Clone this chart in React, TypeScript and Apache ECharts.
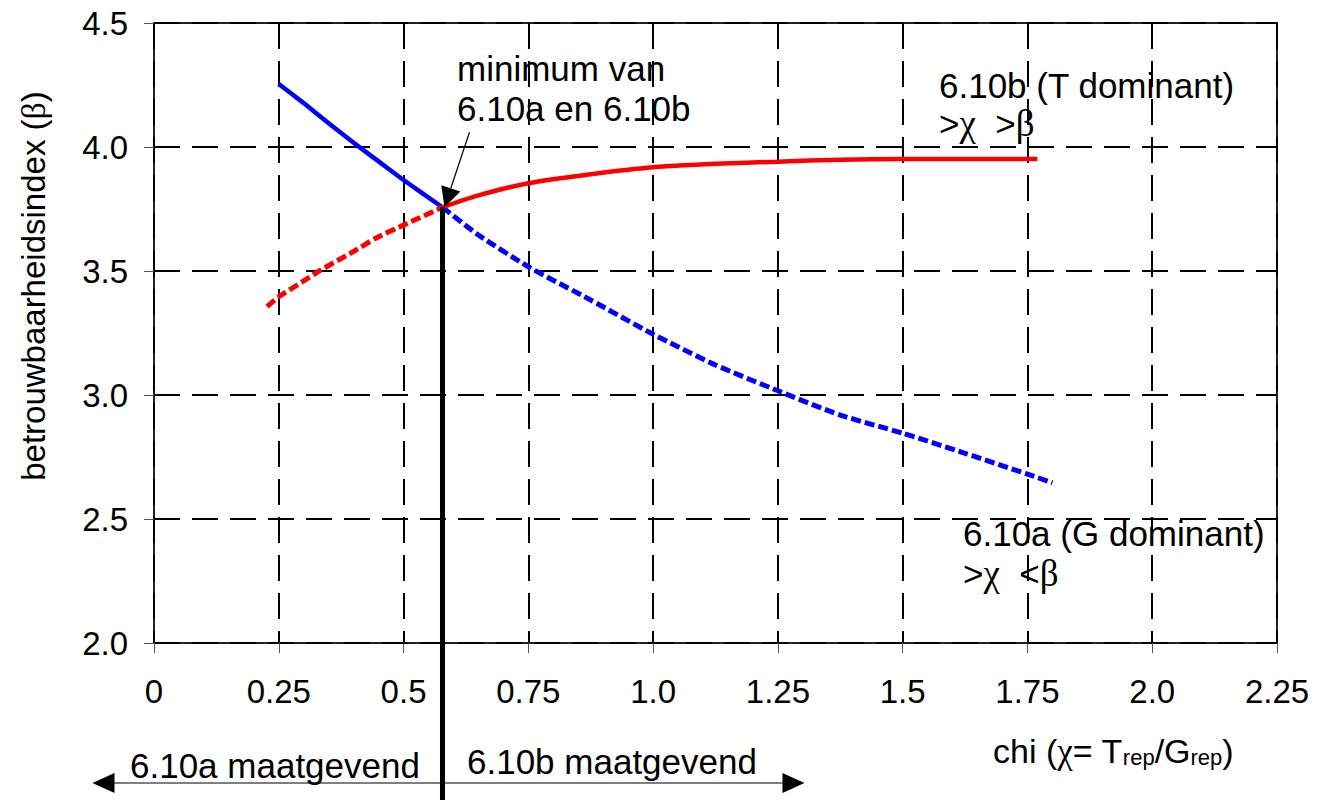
import React, { useEffect, useRef } from "react";
import * as echarts from "echarts";

// ---- data (chi = T_rep / G_rep, beta = reliability index) ----
const xTicks = [0, 0.25, 0.5, 0.75, 1.0, 1.25, 1.5, 1.75, 2.0, 2.25];
const yTicks = [2.0, 2.5, 3.0, 3.5, 4.0, 4.5];

const CHI_MIN = 0.578;
const BETA_MIN = 3.757;

// 6.10a (G dominant)
const blueSolidChi = [0.25, 0.3, 0.35, 0.4, 0.45, 0.5, 0.578];
const blueSolidBeta = [4.254, 4.177, 4.096, 4.017, 3.942, 3.867, 3.757];
const blueDashedChi = [0.578, 0.65, 0.75, 0.875, 1.0, 1.125, 1.25, 1.375, 1.5, 1.625, 1.75, 1.8];
const blueDashedBeta = [3.757, 3.645, 3.517, 3.383, 3.245, 3.121, 3.017, 2.919, 2.846, 2.765, 2.681, 2.646];

// 6.10b (T dominant)
const redDashedChi = [0.2265, 0.25, 0.3, 0.331, 0.4, 0.444, 0.5, 0.578];
const redDashedBeta = [3.356, 3.396, 3.46, 3.5, 3.579, 3.632, 3.685, 3.757];
const redSolidChi = [0.578, 0.65, 0.75, 0.875, 1.0, 1.125, 1.25, 1.375, 1.5, 1.77];
const redSolidBeta = [3.757, 3.805, 3.854, 3.89, 3.918, 3.932, 3.941, 3.949, 3.952, 3.952];

const zip = (xs: number[], ys: number[]) => xs.map((x, i) => [x, ys[i]]);

const SANS = "'Liberation Sans', Arial, sans-serif";
const SERIF = "'Liberation Serif', 'DejaVu Serif', serif";

export default function App() {
  const ref = useRef<HTMLDivElement>(null);

  useEffect(() => {
    const chart = echarts.init(ref.current!, null, { renderer: "svg" });

    const gridLine = { color: "#000", width: 2, type: [26, 12] as any };

    chart.setOption({
      animation: false,
      backgroundColor: "#fff",
      textStyle: { fontFamily: SANS },
      grid: {
        left: 154,
        top: 23,
        width: 1123,
        height: 620,
        show: true,
        borderColor: "#222",
        borderWidth: 2,
        backgroundColor: "transparent",
      },
      xAxis: {
        type: "value",
        min: xTicks[0],
        max: xTicks[xTicks.length - 1],
        interval: 0.25,
        axisLine: { show: false },
        axisTick: { show: true, length: 10, lineStyle: { color: "#555", width: 1 } },
        axisLabel: {
          show: true,
          margin: 32,
          fontSize: 33,
          color: "#000",
          fontFamily: SANS,
          showMinLabel: true,
          showMaxLabel: true,
          formatter: (v: number) => {
            if (v === 0) return "0";
            const q = Math.round(v * 4);
            return q % 2 === 0 ? v.toFixed(1) : v.toFixed(2);
          },
        },
        splitLine: { show: true, lineStyle: gridLine },
      },
      yAxis: {
        type: "value",
        min: yTicks[0],
        max: yTicks[yTicks.length - 1],
        interval: 0.5,
        axisLine: { show: false },
        axisTick: { show: true, length: 10, lineStyle: { color: "#555", width: 1 } },
        axisLabel: {
          margin: 26,
          fontSize: 33,
          color: "#000",
          fontFamily: SANS,
          formatter: (v: number) => v.toFixed(1),
        },
        splitLine: { show: true, lineStyle: gridLine },
      },
      series: [
        {
          name: "6.10a solid",
          type: "line",
          data: zip(blueSolidChi, blueSolidBeta),
          showSymbol: false,
          symbol: "none",
          smooth: 0.2,
          lineStyle: { color: "#0000ff", width: 4.5 },
          z: 5,
        },
        {
          name: "6.10a dashed",
          type: "line",
          data: zip(blueDashedChi, blueDashedBeta),
          showSymbol: false,
          symbol: "none",
          smooth: 0.2,
          lineStyle: { color: "#0000ff", width: 5, type: [10, 4] },
          z: 5,
        },
        {
          name: "6.10b dashed",
          type: "line",
          data: zip(redDashedChi, redDashedBeta),
          showSymbol: false,
          symbol: "none",
          smooth: 0.2,
          lineStyle: { color: "#ff0000", width: 5, type: [10, 4] },
          z: 5,
        },
        {
          name: "6.10b solid",
          type: "line",
          data: zip(redSolidChi, redSolidBeta),
          showSymbol: false,
          symbol: "none",
          smooth: 0.3,
          lineStyle: { color: "#ff0000", width: 4.5 },
          z: 6,
        },
      ],
    });

    const P = (x: number, y: number) =>
      chart.convertToPixel({ gridIndex: 0 }, [x, y]) as number[];
    const [ix, iy] = P(CHI_MIN, BETA_MIN);

    // annotation arrow into the intersection
    const tipX = ix + 2;
    const tipY = iy;
    const tailX = ix + 27;
    const tailY = iy - 75;
    const dx = tipX - tailX;
    const dy = tipY - tailY;
    const len = Math.hypot(dx, dy);
    const ux = dx / len;
    const uy = dy / len;
    const headL = 20;
    const headW = 10;
    const bx = tipX - ux * headL;
    const by = tipY - uy * headL;
    const px = -uy;
    const py = ux;

    const arrowY = 783;
    const leftTip = ix - 350;
    const rightTip = ix + 362;

    const txt = (text: string, x: number, y: number, extra: any = {}) => ({
      type: "text",
      x,
      y,
      z: 200,
      style: {
        text,
        fill: "#000",
        fontFamily: SANS,
        fontSize: 35,
        align: "left",
        verticalAlign: "middle",
        ...extra,
      },
    });

    const richG = {
      a: { fontFamily: SANS, fontSize: 35, color: "#000" },
      g: { fontFamily: SERIF, fontSize: 37, color: "#000" },
    };

    chart.setOption({
      graphic: [
        {
          type: "line",
          z: 150,
          shape: { x1: ix, y1: iy, x2: ix, y2: 800 },
          style: { stroke: "#000", lineWidth: 5 },
        },
        {
          type: "line",
          z: 150,
          shape: { x1: tailX, y1: tailY, x2: bx, y2: by },
          style: { stroke: "#000", lineWidth: 1.2 },
        },
        {
          type: "polygon",
          z: 150,
          shape: {
            points: [
              [tipX, tipY],
              [bx + px * headW, by + py * headW],
              [bx - px * headW, by - py * headW],
            ],
          },
          style: { fill: "#000" },
        },
        {
          type: "line",
          z: 150,
          shape: { x1: leftTip + 10, y1: arrowY, x2: rightTip - 10, y2: arrowY },
          style: { stroke: "#000", lineWidth: 1.2 },
        },
        {
          type: "polygon",
          z: 150,
          shape: { points: [[leftTip, arrowY], [leftTip + 22, arrowY - 10], [leftTip + 22, arrowY + 10]] },
          style: { fill: "#000" },
        },
        {
          type: "polygon",
          z: 150,
          shape: { points: [[rightTip, arrowY], [rightTip - 22, arrowY - 10], [rightTip - 22, arrowY + 10]] },
          style: { fill: "#000" },
        },
        txt("minimum van", 457, 68),
        txt("6.10a en 6.10b", 457, 108),
        txt("6.10b (T dominant)", 939, 85),
        txt("{a|>}{g|χ}{a|  >}{g|β}", 939, 123, { rich: richG }),
        txt("6.10a (G dominant)", 963, 533),
        txt("{a|>}{g|χ}{a|  <}{g|β}", 963, 573, { rich: richG }),
        txt("6.10a maatgevend", 130, 765),
        txt("6.10b maatgevend", 467, 761),
        txt("{a|chi (}{g|χ}{a|= T}{s|rep}{a|/G}{s|rep}{a|)}", 993, 751, {
          rich: {
            a: { fontFamily: SANS, fontSize: 34, color: "#000" },
            g: { fontFamily: SERIF, fontSize: 35, color: "#000" },
            s: { fontFamily: SANS, fontSize: 22, color: "#000", verticalAlign: "bottom" },
          },
        }),
        {
          type: "text",
          x: 33,
          y: 286,
          rotation: Math.PI / 2,
          z: 200,
          style: {
            text: "{a|betrouwbaarheidsindex (}{g|β}{a|)}",
            align: "center",
            verticalAlign: "middle",
            rich: {
              a: { fontFamily: SANS, fontSize: 33, color: "#000" },
              g: { fontFamily: SERIF, fontSize: 34, color: "#000" },
            },
          },
        },
      ],
    });

    return () => chart.dispose();
  }, []);

  return (
    <div
      ref={ref}
      style={{ position: "absolute", left: 0, top: 0, width: 1321, height: 800 }}
    />
  );
}
